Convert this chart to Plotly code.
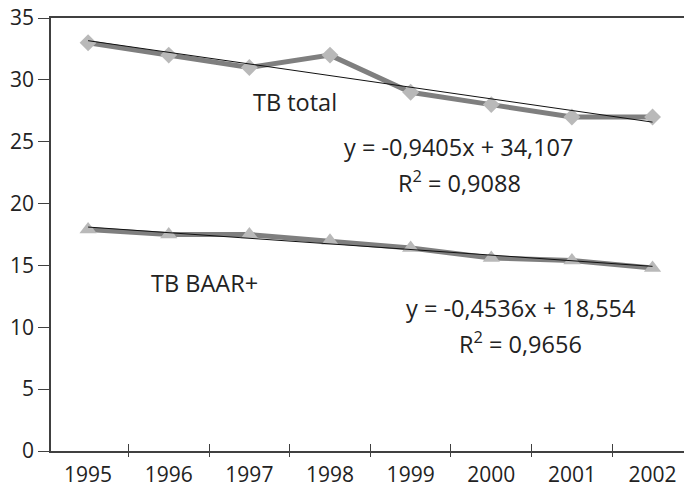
import plotly.graph_objects as go

years = ["1995", "1996", "1997", "1998", "1999", "2000", "2001", "2002"]
tb_total = [33, 32, 31, 32, 29, 28, 27, 27]
tb_baar = [17.9, 17.5, 17.5, 17.0, 16.4, 15.6, 15.4, 14.8]
trend_total = (-0.9405, 34.107)
trend_baar = (-0.4536, 18.554)
y_ticks = [0, 5, 10, 15, 20, 25, 30, 35]

FONT = "Open Sans"
TXT = "#222222"
LINE_C = "#7f7f7f"
MARK_C = "#b9b9b9"
AX_C = "#404040"

def trend(coef):
    a, b = coef
    return [a * (i + 1) + b for i in range(len(years))]

fig = go.Figure()
for vals, sym, size, coef in [
    (tb_total, "diamond", 13, trend_total),
    (tb_baar, "triangle-up", 15, trend_baar),
]:
    fig.add_trace(go.Scatter(x=years, y=vals, mode="lines",
                             line=dict(color=LINE_C, width=5), showlegend=False))
    fig.add_trace(go.Scatter(x=years, y=trend(coef), mode="lines", xaxis="x2",
                             line=dict(color="#111111", width=1), showlegend=False))
    fig.add_trace(go.Scatter(x=years, y=vals, mode="markers",
                             marker=dict(symbol=sym, size=size, color=MARK_C),
                             showlegend=False))

annots = [
    ("TB total", 2.57, 28.2),
    ("y = -0,9405x + 34,107", 4.59, 24.6),
    ("R<sup>2</sup> = 0,9088", 4.6, 21.75),
    ("TB BAAR+", 1.44, 13.6),
    ("y = -0,4536x + 18,554", 5.36, 11.56),
    ("R<sup>2</sup> = 0,9656", 5.36, 8.8),
]
for t, x, y in annots:
    fig.add_annotation(text=t, x=x, y=y, xref="x", yref="y", showarrow=False,
                       font=dict(family=FONT, size=23.5, color=TXT))

xr = [-0.46, 7.39]
fig.update_layout(
    width=684, height=485,
    margin=dict(l=51, r=0, t=18, b=34, autoexpand=False),
    paper_bgcolor="white", plot_bgcolor="white",
    font=dict(family=FONT, size=21, color=TXT),
    xaxis=dict(type="category", categoryorder="array", categoryarray=years,
               range=xr, tickson="boundaries", ticks="outside", ticklen=4,
               tickcolor=AX_C, tickwidth=1.3, showline=True, linecolor=AX_C,
               linewidth=1.5, mirror=True, showgrid=False, zeroline=False,
               automargin=False, ticklabelstandoff=4,
               tickfont=dict(family=FONT, size=21, color=TXT)),
    xaxis2=dict(type="category", categoryorder="array", categoryarray=years,
                overlaying="x", matches="x", range=xr, tickson="boundaries",
                ticks="inside", ticklen=7, tickcolor=AX_C, tickwidth=1.3,
                showticklabels=False, showline=False, showgrid=False,
                zeroline=False, side="bottom", automargin=False),
    yaxis=dict(range=[0, 35], tickvals=y_ticks, ticks="outside", ticklen=11,
               tickcolor=AX_C, tickwidth=1.3, showline=True, linecolor=AX_C,
               linewidth=1.5, showgrid=False, zeroline=False, automargin=False,
               tickfont=dict(family=FONT, size=21, color=TXT)),
)
fig.write_html("out.html", config={"displayModeBar": False},
               post_script="document.body.style.margin='0';document.body.style.overflow='hidden';")
